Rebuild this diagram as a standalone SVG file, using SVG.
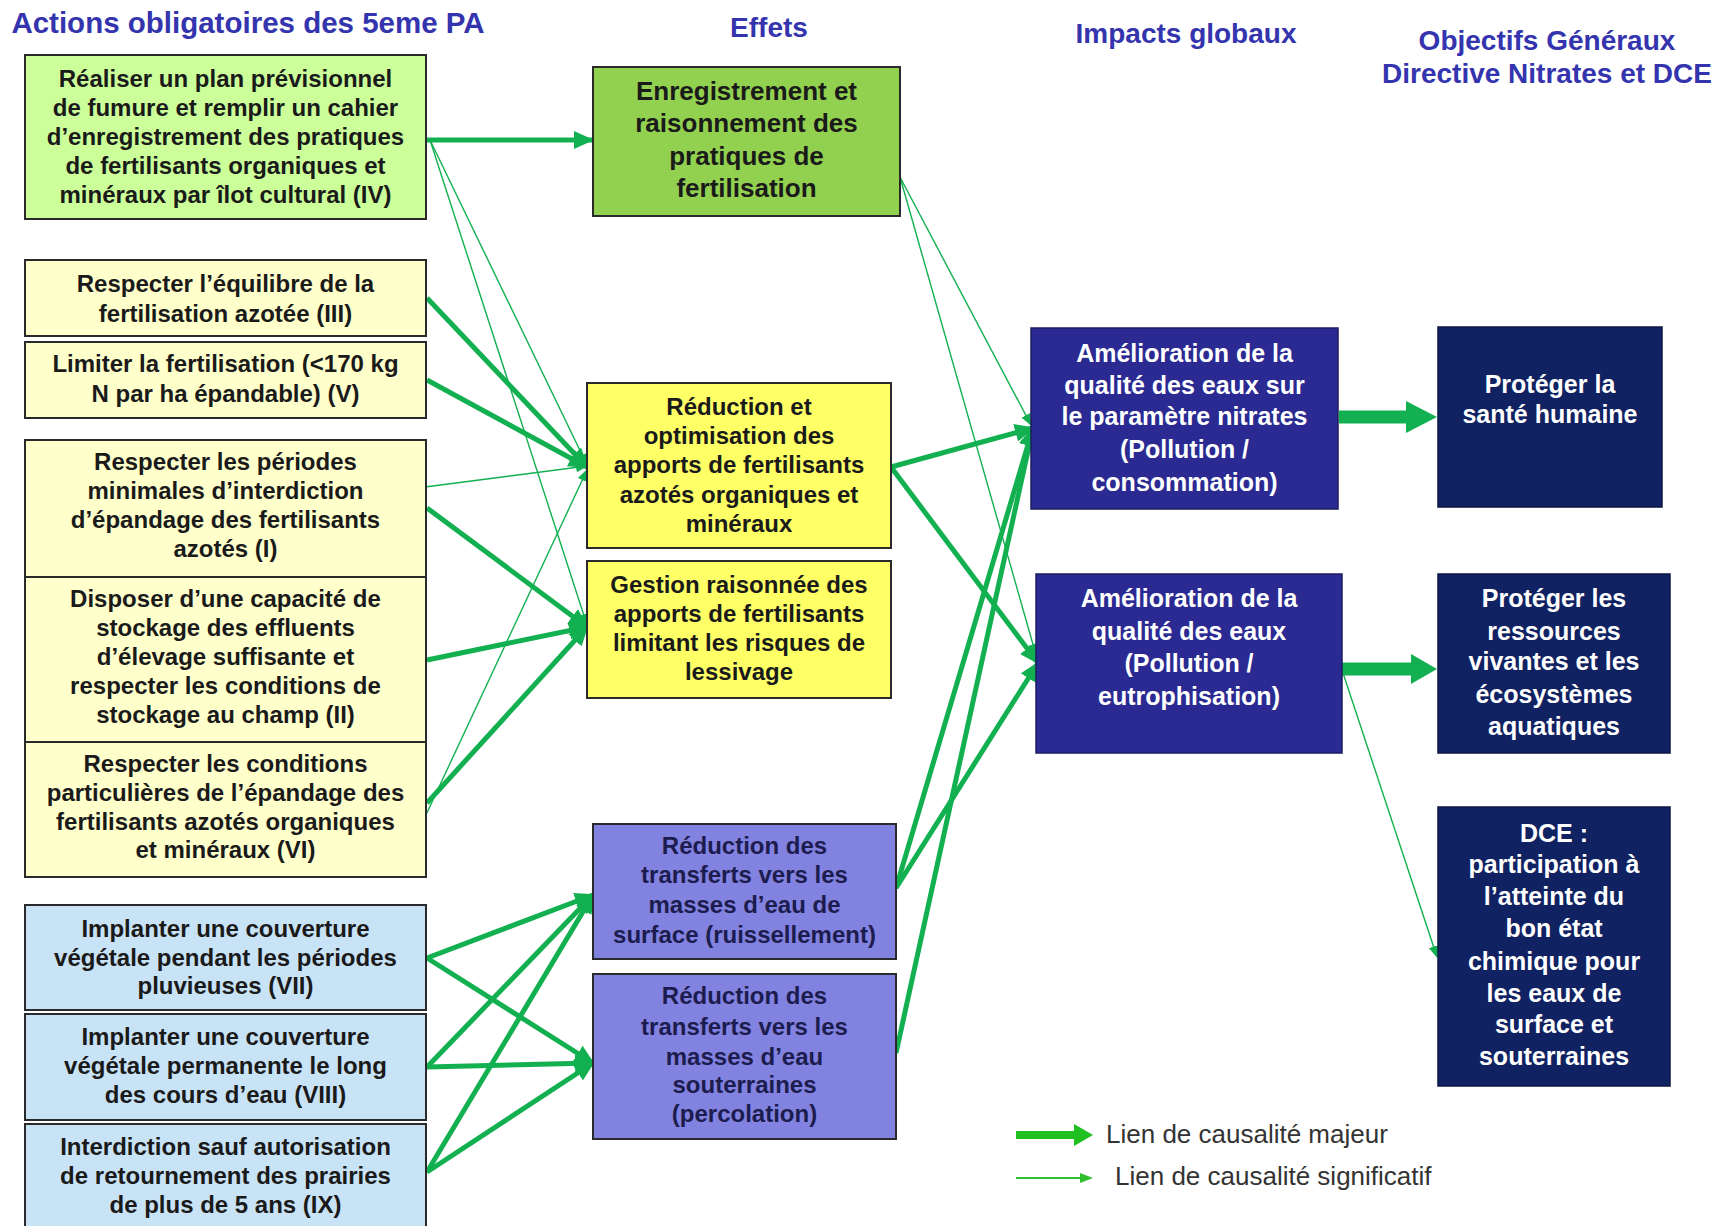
<svg xmlns="http://www.w3.org/2000/svg" width="1724" height="1226" viewBox="0 0 1724 1226">
<defs>
<style>
text{font-family:"Liberation Sans",Arial,sans-serif;font-weight:bold;text-anchor:middle}
.hd{font-size:28px;fill:#3434ae}
.t{font-size:24px;fill:#1a1a1a}
.tp{font-size:24px;fill:#1c1c4e}
.tw{font-size:25px;fill:#ffffff}
.te{font-size:26px;fill:#1a1a1a}
.lg{font-size:26px;font-weight:normal;fill:#333333;text-anchor:start}
.box{stroke:#2a2a2a;stroke-width:2}
.g1{fill:#ccff99}.y1{fill:#ffffcc}.b1{fill:#c9e3f6}
.g2{fill:#92d050}.y2{fill:#ffff66}.p2{fill:#8282e0}
.d3{fill:#2a2a92;stroke:#1c1c60;stroke-width:1.5}
.d4{fill:#102262;stroke:#0a1640;stroke-width:1.5}
.maj{stroke:#12b050;stroke-width:5;fill:none;marker-end:url(#ah)}
.sig{stroke:#12b050;stroke-width:1.4;fill:none;marker-end:url(#as)}
</style>
<marker id="ah" markerUnits="userSpaceOnUse" markerWidth="20" markerHeight="18" refX="18" refY="9" orient="auto">
<path d="M0,0 L20,9 L0,18 z" fill="#12b050"/>
</marker>
<marker id="as" markerUnits="userSpaceOnUse" markerWidth="12" markerHeight="10" refX="11" refY="5" orient="auto">
<path d="M0,0 L12,5 L0,10 z" fill="#12b050"/>
</marker>
</defs>
<rect width="1724" height="1226" fill="#ffffff"/>

<g id="headers">
<text class="hd" x="248" y="33" style="font-size:29.5px">Actions obligatoires des 5eme PA</text>
<text class="hd" x="769" y="37">Effets</text>
<text class="hd" x="1186" y="43">Impacts globaux</text>
<text class="hd" x="1547" y="50">Objectifs  Généraux</text>
<text class="hd" x="1547" y="83">Directive Nitrates et DCE</text>
</g>

<g id="connectors">
<path class="maj" d="M426,140 L592,140"/>
<path class="maj" d="M427,298 L587,467"/>
<path class="maj" d="M427,380 L587,467"/>
<path class="maj" d="M427,508 L587,627"/>
<path class="maj" d="M427,660 L587,627"/>
<path class="maj" d="M427,803 L587,627"/>
<path class="maj" d="M427,958 L593,895"/>
<path class="maj" d="M427,958 L593,1063"/>
<path class="maj" d="M427,1067 L593,895"/>
<path class="maj" d="M427,1067 L593,1063"/>
<path class="maj" d="M427,1172 L593,895"/>
<path class="maj" d="M427,1172 L593,1063"/>
<path class="maj" d="M891,467 L1033,428"/>
<path class="maj" d="M891,467 L1038,663"/>
<path class="maj" d="M896,888 L1033,428"/>
<path class="maj" d="M896,888 L1038,663"/>
<path class="maj" d="M896,1053 L1033,428"/>
<path class="sig" d="M430,140 L587,465"/>
<path class="sig" d="M430,140 L587,625"/>
<path class="sig" d="M425,487 L587,466"/>
<path class="sig" d="M425,817 L587,470"/>
<path class="sig" d="M900,177 L1031,425"/>
<path class="sig" d="M900,177 L1036,655"/>
<path class="sig" d="M1343,673 L1437,957"/>
<polygon points="1339,410.5 1406,410.5 1406,401 1437,417 1406,433 1406,423.5 1339,423.5" fill="#12b050"/>
<polygon points="1342,662.5 1411,662.5 1411,654 1437,669 1411,684 1411,675.5 1342,675.5" fill="#12b050"/>
</g>

<g id="n-iv">
<rect class="box g1" x="25" y="55" width="401" height="164"/>
<text class="t" x="225.5" y="87">Réaliser un plan prévisionnel</text>
<text class="t" x="225.5" y="116">de fumure et remplir un cahier</text>
<text class="t" x="225.5" y="145">d’enregistrement des pratiques</text>
<text class="t" x="225.5" y="174">de fertilisants  organiques et</text>
<text class="t" x="225.5" y="203">minéraux par îlot cultural  (IV)</text>
</g>
<g id="n-iii">
<rect class="box y1" x="25" y="260" width="401" height="76"/>
<text class="t" x="225.5" y="292">Respecter  l’équilibre de la</text>
<text class="t" x="225.5" y="322">fertilisation azotée (III)</text>
</g>
<g id="n-v">
<rect class="box y1" x="25" y="342" width="401" height="76"/>
<text class="t" x="225.5" y="372">Limiter la fertilisation (&lt;170 kg</text>
<text class="t" x="225.5" y="402">N par ha épandable)  (V)</text>
</g>
<g id="n-i">
<rect class="box y1" x="25" y="440" width="401" height="137"/>
<text class="t" x="225.5" y="470">Respecter  les périodes</text>
<text class="t" x="225.5" y="499">minimales d’interdiction</text>
<text class="t" x="225.5" y="528">d’épandage des fertilisants</text>
<text class="t" x="225.5" y="557">azotés (I)</text>
</g>
<g id="n-ii">
<rect class="box y1" x="25" y="577" width="401" height="165"/>
<text class="t" x="225.5" y="607">Disposer d’une capacité de</text>
<text class="t" x="225.5" y="636">stockage des effluents</text>
<text class="t" x="225.5" y="665">d’élevage suffisante et</text>
<text class="t" x="225.5" y="694">respecter les conditions de</text>
<text class="t" x="225.5" y="723">stockage au champ (II)</text>
</g>
<g id="n-vi">
<rect class="box y1" x="25" y="742" width="401" height="135"/>
<text class="t" x="225.5" y="772">Respecter  les conditions</text>
<text class="t" x="225.5" y="801">particulières de l’épandage des</text>
<text class="t" x="225.5" y="830">fertilisants azotés organiques</text>
<text class="t" x="225.5" y="858">et minéraux (VI)</text>
</g>
<g id="n-vii">
<rect class="box b1" x="25" y="905" width="401" height="105"/>
<text class="t" x="225.5" y="937">Implanter  une couverture</text>
<text class="t" x="225.5" y="966">végétale pendant les périodes</text>
<text class="t" x="225.5" y="994">pluvieuses (VII)</text>
</g>
<g id="n-viii">
<rect class="box b1" x="25" y="1014" width="401" height="106"/>
<text class="t" x="225.5" y="1045">Implanter une couverture</text>
<text class="t" x="225.5" y="1074">végétale permanente  le long</text>
<text class="t" x="225.5" y="1103">des cours d’eau (VIII)</text>
</g>
<g id="n-ix">
<rect class="box b1" x="25" y="1124" width="401" height="110"/>
<text class="t" x="225.5" y="1155">Interdiction sauf autorisation</text>
<text class="t" x="225.5" y="1184">de retournement  des prairies</text>
<text class="t" x="225.5" y="1213">de plus de 5 ans (IX)</text>
</g>

<g id="n-enreg">
<rect class="box g2" x="593" y="67" width="307" height="149"/>
<text class="te" x="746.5" y="100">Enregistrement  et</text>
<text class="te" x="746.5" y="132">raisonnement des</text>
<text class="te" x="746.5" y="165">pratiques de</text>
<text class="te" x="746.5" y="197">fertilisation</text>
</g>
<g id="n-reduction">
<rect class="box y2" x="587" y="383" width="304" height="165"/>
<text class="t" x="739" y="415">Réduction  et</text>
<text class="t" x="739" y="444">optimisation des</text>
<text class="t" x="739" y="473">apports de fertilisants</text>
<text class="t" x="739" y="503">azotés organiques et</text>
<text class="t" x="739" y="532">minéraux</text>
</g>
<g id="n-gestion">
<rect class="box y2" x="587" y="561" width="304" height="137"/>
<text class="t" x="739" y="593">Gestion raisonnée des</text>
<text class="t" x="739" y="622">apports de fertilisants</text>
<text class="t" x="739" y="651">limitant les risques de</text>
<text class="t" x="739" y="680">lessivage</text>
</g>
<g id="n-ruissellement">
<rect class="box p2" x="593" y="824" width="303" height="135"/>
<text class="tp" x="744.5" y="854">Réduction  des</text>
<text class="tp" x="744.5" y="883">transferts  vers  les</text>
<text class="tp" x="744.5" y="913">masses d’eau de</text>
<text class="tp" x="744.5" y="943">surface (ruissellement)</text>
</g>
<g id="n-percolation">
<rect class="box p2" x="593" y="974" width="303" height="165"/>
<text class="tp" x="744.5" y="1004">Réduction  des</text>
<text class="tp" x="744.5" y="1035">transferts  vers  les</text>
<text class="tp" x="744.5" y="1065">masses d’eau</text>
<text class="tp" x="744.5" y="1093">souterraines</text>
<text class="tp" x="744.5" y="1122">(percolation)</text>
</g>

<g id="n-impact-nitrates">
<rect class="d3" x="1031" y="328" width="307" height="181"/>
<text class="tw" x="1184.5" y="362">Amélioration de la</text>
<text class="tw" x="1184.5" y="394">qualité des eaux sur</text>
<text class="tw" x="1184.5" y="425">le  paramètre nitrates</text>
<text class="tw" x="1184.5" y="458">(Pollution /</text>
<text class="tw" x="1184.5" y="491">consommation)</text>
</g>
<g id="n-impact-eutro">
<rect class="d3" x="1036" y="574" width="306" height="179"/>
<text class="tw" x="1189" y="607">Amélioration de la</text>
<text class="tw" x="1189" y="640">qualité des eaux</text>
<text class="tw" x="1189" y="672">(Pollution /</text>
<text class="tw" x="1189" y="705">eutrophisation)</text>
</g>

<g id="n-obj-sante">
<rect class="d4" x="1438" y="327" width="224" height="180"/>
<text class="tw" x="1550" y="393">Protéger la</text>
<text class="tw" x="1550" y="423">santé humaine</text>
</g>
<g id="n-obj-ressources">
<rect class="d4" x="1438" y="574" width="232" height="179"/>
<text class="tw" x="1554" y="607">Protéger les</text>
<text class="tw" x="1554" y="640">ressources</text>
<text class="tw" x="1554" y="670">vivantes et les</text>
<text class="tw" x="1554" y="703">écosystèmes</text>
<text class="tw" x="1554" y="735">aquatiques</text>
</g>
<g id="n-obj-dce">
<rect class="d4" x="1438" y="807" width="232" height="279"/>
<text class="tw" x="1554" y="842">DCE :</text>
<text class="tw" x="1554" y="873">participation à</text>
<text class="tw" x="1554" y="905">l’atteinte du</text>
<text class="tw" x="1554" y="937">bon état</text>
<text class="tw" x="1554" y="970">chimique pour</text>
<text class="tw" x="1554" y="1002">les eaux de</text>
<text class="tw" x="1554" y="1033">surface et</text>
<text class="tw" x="1554" y="1065">souterraines</text>
</g>

<g id="legend">
<polygon points="1016,1131 1074,1131 1074,1124 1093,1135 1074,1146 1074,1139 1016,1139" fill="#1fc01f"/>
<line x1="1016" y1="1178" x2="1082" y2="1178" stroke="#2fbf2f" stroke-width="2"/>
<polygon points="1080,1173 1093,1178 1080,1183" fill="#2fbf2f"/>
<text class="lg" x="1106" y="1143">Lien de causalité majeur</text>
<text class="lg" x="1115" y="1185">Lien de causalité significatif</text>
</g>
</svg>
